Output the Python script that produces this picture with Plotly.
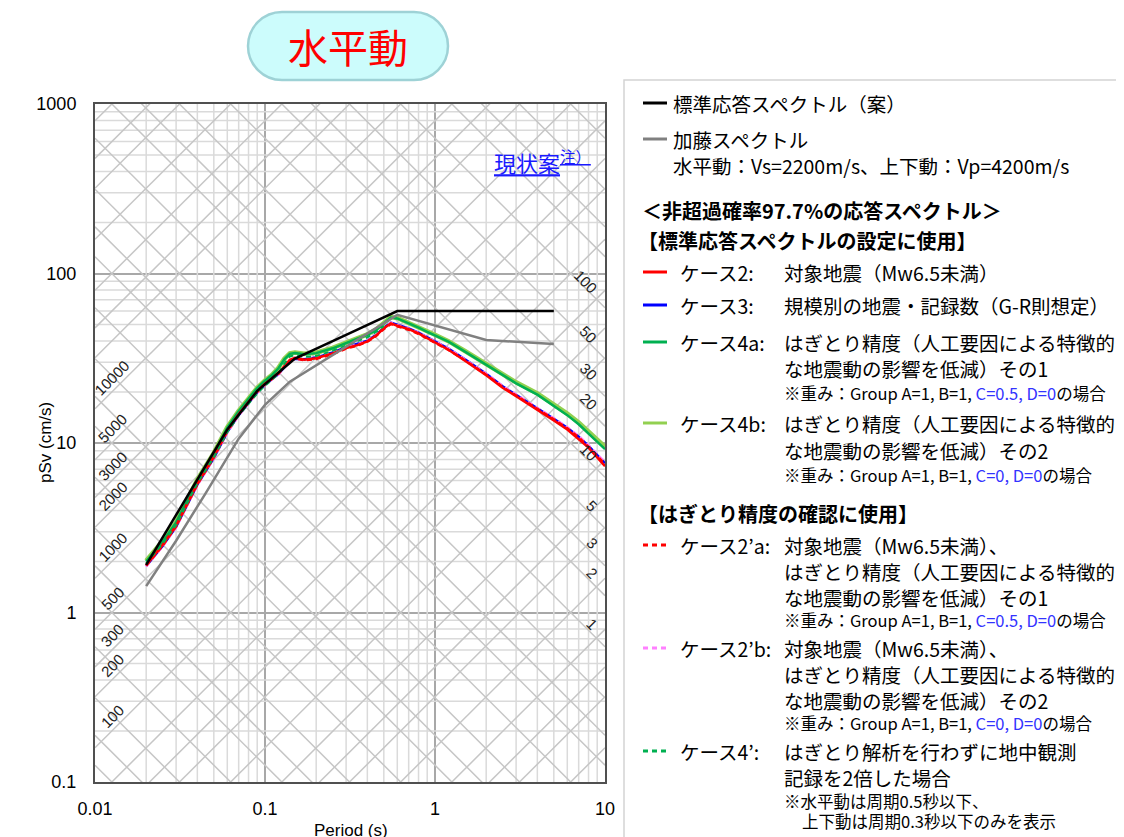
import math
import plotly.graph_objects as go

# ---------------- data ----------------
period = [0.02, 0.025, 0.03, 0.035, 0.04, 0.05, 0.06, 0.07, 0.08, 0.09,
          0.10, 0.11, 0.12, 0.13, 0.14, 0.15, 0.17, 0.20, 0.25, 0.30,
          0.35, 0.40, 0.45, 0.50, 0.55, 0.60, 0.70, 0.80, 0.90, 1.00,
          1.20, 1.50, 2.00, 2.50, 3.00, 4.00, 5.00, 6.00, 7.00, 8.00, 10.0]

case2_psv = [1.90, 2.50, 3.25, 4.40, 5.75, 8.30, 11.8, 14.8, 17.6, 20.2,
             22.4, 24.0, 25.9, 28.6, 31.0, 31.8, 31.0, 31.6, 33.8, 36.3,
             37.8, 39.8, 43.0, 47.5, 50.8, 49.2, 47.0, 44.3, 41.5, 39.2,
             35.5, 30.6, 25.1, 21.2, 18.9, 15.7, 13.6, 12.0, 10.6, 9.4, 7.3]

case3_psv = [1.88, 2.47, 3.20, 4.32, 5.68, 8.15, 11.6, 14.6, 17.3, 19.9,
             22.1, 23.7, 25.5, 28.0, 30.4, 31.4, 31.2, 31.9, 34.2, 36.8,
             38.4, 40.2, 43.3, 47.9, 51.3, 49.8, 47.4, 44.8, 42.0, 39.8,
             36.1, 31.2, 25.6, 21.6, 19.3, 16.0, 13.9, 12.3, 10.9, 9.6, 7.6]

case4a_psv = [2.00, 2.62, 3.40, 4.60, 6.05, 8.70, 12.3, 15.4, 18.3, 21.1,
              23.3, 25.2, 27.6, 31.2, 33.6, 34.0, 33.4, 33.9, 36.2, 38.8,
              41.2, 43.5, 46.5, 50.6, 55.0, 54.3, 51.0, 48.0, 45.3, 43.2,
              39.6, 34.6, 29.0, 25.2, 22.5, 19.3, 16.6, 14.6, 12.9, 11.4, 9.2]

case4b_psv = [2.02, 2.64, 3.42, 4.62, 6.08, 8.75, 12.4, 15.5, 18.4, 21.2,
              23.4, 25.3, 27.8, 31.4, 33.8, 34.2, 33.6, 34.1, 36.4, 39.0,
              41.4, 43.7, 46.8, 50.9, 55.3, 54.6, 51.3, 48.3, 45.6, 43.5,
              39.9, 34.9, 29.3, 25.5, 22.8, 19.6, 16.9, 14.9, 13.2, 11.7, 9.5]

case2a_psv = [1.89, 2.48, 3.22, 4.36, 5.70, 8.20, 11.7, 14.7, 17.4, 20.0,
              22.2, 23.8, 25.6, 28.2, 30.6, 31.5, 30.8, 31.3, 33.5, 36.0,
              37.6, 39.6, 42.8, 47.0, 50.3, 48.8, 46.6, 44.0, 41.3, 39.0,
              35.4, 30.8, 25.3, 21.4, 19.1, 15.9, 13.8, 12.2, 10.8, 9.5, 7.5]

case2b_psv = [1.87, 2.46, 3.18, 4.30, 5.65, 8.10, 11.5, 14.5, 17.2, 19.8,
              22.0, 23.6, 25.4, 27.9, 30.3, 31.3, 31.1, 31.8, 34.0, 36.6,
              38.2, 40.1, 43.2, 47.6, 51.2, 49.6, 47.2, 44.6, 41.9, 39.6,
              36.0, 31.1, 25.6, 21.7, 19.4, 16.1, 14.0, 12.4, 11.0, 9.7, 7.7]

period_case4p = [0.02, 0.025, 0.03, 0.035, 0.04, 0.05, 0.06, 0.07, 0.08, 0.09,
                 0.10, 0.11, 0.12, 0.13, 0.14, 0.15, 0.17, 0.20, 0.25, 0.30,
                 0.35, 0.40, 0.45, 0.50]
case4p_psv = [1.95, 2.55, 3.28, 4.45, 5.80, 8.25, 11.6, 14.5, 17.0, 19.6,
              21.8, 23.6, 25.8, 29.4, 32.4, 33.0, 32.2, 32.6, 35.0, 37.6,
              39.6, 42.0, 45.2, 49.0]

std_period = [0.02, 0.03, 0.04, 0.06, 0.09, 0.15, 0.30, 0.60, 5.00]
std_psv = [1.91, 3.75, 6.0, 12.0, 20.3, 31.5, 43.4, 60.0, 60.0]

kato_period = [0.02, 0.03, 0.045, 0.07, 0.10, 0.14, 0.60, 2.00, 5.00]
kato_psv = [1.43, 2.65, 5.1, 10.6, 16.8, 23.0, 57.0, 40.5, 38.4]

x_tick_vals = [0.01, 0.1, 1, 10]
x_tick_text = ["0.01", "0.1", "1", "10"]
y_tick_vals = [0.1, 1, 10, 100, 1000]
y_tick_text = ["0.1", "1", "10", "100", "1000"]

accel_levels = [k * 10 ** e for e in range(-1, 6) for k in (1, 2, 3, 5)]   # cm/s^2
disp_levels = [k * 10.0 ** e for e in range(-4, 4) for k in (1, 2, 3, 5)]  # cm
accel_labels = [10000, 5000, 3000, 2000, 1000, 500, 300, 200, 100]
disp_labels = [100, 50, 30, 20, 10, 5, 3, 2, 1]

# ---------------- layout helpers ----------------
# reference pixel frame: plot area x 95..605, y 104..782 ; page has an 8px body margin
OFF = 8
W, H = 1124 - OFF, 837 - OFF
L, R, T, B = 95, 605, 104, 782
TWO_PI = 2 * math.pi


def px(x):
    return (x - L) / (R - L)


def py(y):
    return (B - y) / (B - T)


JP = "Noto Sans CJK JP"
AR = "Liberation Sans"

fig = go.Figure()

# minor vertical / horizontal grid
gx, gy = [], []
for d in (0.01, 0.1, 1):
    for k in range(2, 10):
        gx += [k * d, k * d, None]
        gy += [0.1, 1000, None]
for d in (0.1, 1, 10, 100):
    for k in range(2, 10):
        gx += [0.01, 10, None]
        gy += [k * d, k * d, None]
fig.add_trace(go.Scatter(x=gx, y=gy, mode="lines", hoverinfo="skip",
                         line=dict(color="#dadada", width=1.5), showlegend=False))

# tripartite diagonals
dx, dy = [], []
for sa in accel_levels:
    dx += [0.01, 10, None]
    dy += [sa * 0.01 / TWO_PI, sa * 10 / TWO_PI, None]
for sd in disp_levels:
    dx += [0.01, 10, None]
    dy += [TWO_PI * sd / 0.01, TWO_PI * sd / 10, None]
fig.add_trace(go.Scatter(x=dx, y=dy, mode="lines", hoverinfo="skip",
                         line=dict(color="#c6c6c6", width=1.5), showlegend=False))


def add_curve(x, y, color, width, dash="solid", name=""):
    fig.add_trace(go.Scatter(x=x, y=y, mode="lines", name=name,
                             line=dict(color=color, width=width, dash=dash),
                             showlegend=False))


DASH = "5px,4px"
add_curve(period, case4b_psv, "#92d050", 4.5, name="ケース4b")
add_curve(period, case4a_psv, "#00b050", 2.5, name="ケース4a")
add_curve(period, case3_psv, "#0000ff", 2.5, name="ケース3")
add_curve(period, case2b_psv, "#ff80ff", 2.5, DASH, name="ケース2'b")
add_curve(period, case2a_psv, "#ff0000", 2.5, DASH, name="ケース2'a")
add_curve(period, case2_psv, "#ff0000", 2.5, name="ケース2")
add_curve(period_case4p, case4p_psv, "#00b050", 2.0, DASH, name="ケース4'")
add_curve(kato_period, kato_psv, "#808080", 2.5, name="加藤スペクトル")
add_curve(std_period, std_psv, "#000000", 2.5, name="標準応答スペクトル（案）")

annotations = []
shapes = []

# tripartite labels
t_left = 0.0128
for sa in accel_labels:
    annotations.append(dict(x=math.log10(t_left), y=math.log10(sa * t_left / TWO_PI),
                            xref="x", yref="y", text=str(sa), showarrow=False,
                            xanchor="center", yanchor="middle",
                            textangle=-45, yshift=13, xshift=-1,
                            font=dict(family=AR, size=15, color="#222")))
t_right = 8.5
for sd in disp_labels:
    n = len(str(sd))
    annotations.append(dict(x=math.log10(t_right), y=math.log10(TWO_PI * sd / t_right),
                            xref="x", yref="y", text=str(sd), showarrow=False,
                            xanchor="center", yanchor="middle",
                            textangle=45, yshift=11 + 1.5 * (n - 1), xshift=-1.5 - 3 * (n - 1),
                            font=dict(family=AR, size=15, color="#222")))

# axis titles
annotations.append(dict(x=px(45), y=py(443), xref="paper", yref="paper",
                        xanchor="center", yanchor="middle",
                        text="pSv (cm/s)", showarrow=False, textangle=-90,
                        font=dict(family=AR, size=17, color="black")))
annotations.append(dict(x=px(351), y=py(830), xref="paper", yref="paper",
                        xanchor="center", yanchor="middle",
                        text="Period (s)", showarrow=False,
                        font=dict(family=AR, size=17, color="black")))

# 現状案 note
annotations.append(dict(x=px(492), y=py(161), xref="paper", yref="paper",
                        xanchor="left", yanchor="middle",
                        text="<u>現状案<sup>注）</sup></u>", showarrow=False,
                        font=dict(family=JP, size=22, color="#1a1aff")))

# title pill
x0, x1, y0, y1 = 248, 448, 12, 80
r = (y1 - y0) / 2
k = 0.5523 * r


def P(x, y):
    return f"{px(x):.5f},{py(y):.5f}"


path = (f"M {P(x0 + r, y0)} L {P(x1 - r, y0)} "
        f"C {P(x1 - r + k, y0)} {P(x1, y0 + r - k)} {P(x1, y0 + r)} "
        f"C {P(x1, y0 + r + k)} {P(x1 - r + k, y1)} {P(x1 - r, y1)} "
        f"L {P(x0 + r, y1)} "
        f"C {P(x0 + r - k, y1)} {P(x0, y0 + r + k)} {P(x0, y0 + r)} "
        f"C {P(x0, y0 + r - k)} {P(x0 + r - k, y0)} {P(x0 + r, y0)} Z")
shapes.append(dict(type="path", path=path, xref="paper", yref="paper",
                   fillcolor="#ccfcfc", line=dict(color="#9ed2d6", width=2.5)))
annotations.append(dict(x=px(348), y=py(46), xref="paper", yref="paper",
                        xanchor="center", yanchor="middle",
                        text="水平動", showarrow=False,
                        font=dict(family=JP, size=40, color="#ff0000")))

# legend panel
shapes.append(dict(type="rect", xref="paper", yref="paper",
                   x0=px(624), x1=px(1140), y0=py(850), y1=py(80),
                   fillcolor="white", line=dict(color="#d4d4d4", width=1.5), layer="below"))

MAIN = 19.5
SMALL = 16.5
HEAD = 20


def txt(x, y, s, size=MAIN, bold=False, color="black"):
    if bold:
        s = "<b>" + s + "</b>"
    annotations.append(dict(x=px(x), y=py(y), xref="paper", yref="paper",
                            xanchor="left", yanchor="middle", text=s, showarrow=False,
                            font=dict(family=JP, size=size, color=color)))


def swatch(y, color, dash="solid"):
    shapes.append(dict(type="line", xref="paper", yref="paper",
                       x0=px(643), x1=px(667), y0=py(y), y1=py(y),
                       line=dict(color=color, width=3, dash=dash)))


BL = "<span style='color:#3333ff'>"
swatch(103, "#000000"); txt(671, 103, "標準応答スペクトル（案）")
swatch(139, "#808080"); txt(671, 139, "加藤スペクトル")
txt(671, 166, "水平動：Vs=2200m/s、上下動：Vp=4200m/s")
txt(640, 210, "＜非超過確率97.7%の応答スペクトル＞", size=HEAD, bold=True)
txt(636, 240, "【標準応答スペクトルの設定に使用】", size=HEAD, bold=True)

C1 = 678
C2 = 782
swatch(272, "#ff0000"); txt(C1, 272, "ケース2:"); txt(C2, 272, "対象地震（Mw6.5未満）")
swatch(305, "#0000ff"); txt(C1, 305, "ケース3:"); txt(C2, 305, "規模別の地震・記録数（G-R則想定）")
swatch(342, "#00b050"); txt(C1, 342, "ケース4a:"); txt(C2, 342, "はぎとり精度（人工要因による特徴的")
txt(C2, 368, "な地震動の影響を低減）その1")
txt(C2, 393, "※重み：Group A=1, B=1, " + BL + "C=0.5, D=0</span>の場合", size=SMALL)
swatch(423, "#92d050"); txt(C1, 423, "ケース4b:"); txt(C2, 423, "はぎとり精度（人工要因による特徴的")
txt(C2, 450, "な地震動の影響を低減）その2")
txt(C2, 475, "※重み：Group A=1, B=1, " + BL + "C=0, D=0</span>の場合", size=SMALL)

txt(636, 513, "【はぎとり精度の確認に使用】", size=HEAD, bold=True)
swatch(545, "#ff0000", DASH); txt(C1, 545, "ケース2’a:"); txt(C2, 545, "対象地震（Mw6.5未満）、")
txt(C2, 571, "はぎとり精度（人工要因による特徴的")
txt(C2, 597, "な地震動の影響を低減）その1")
txt(C2, 620, "※重み：Group A=1, B=1, " + BL + "C=0.5, D=0</span>の場合", size=SMALL)
swatch(648, "#ff80ff", DASH); txt(C1, 648, "ケース2’b:"); txt(C2, 648, "対象地震（Mw6.5未満）、")
txt(C2, 674, "はぎとり精度（人工要因による特徴的")
txt(C2, 700, "な地震動の影響を低減）その2")
txt(C2, 723, "※重み：Group A=1, B=1, " + BL + "C=0, D=0</span>の場合", size=SMALL)
swatch(751, "#00b050", DASH); txt(C1, 751, "ケース4’:"); txt(C2, 751, "はぎとり解析を行わずに地中観測")
txt(C2, 777, "記録を2倍した場合")
txt(C2, 801, "※水平動は周期0.5秒以下、", size=SMALL)
txt(C2 + 18, 821, "上下動は周期0.3秒以下のみを表示", size=SMALL)

fig.update_layout(
    width=W, height=H,
    margin=dict(l=L - OFF, r=W - (R - OFF), t=T - OFF, b=H - (B - OFF), pad=0),
    paper_bgcolor="white", plot_bgcolor="white",
    showlegend=False,
    annotations=annotations, shapes=shapes,
    xaxis=dict(type="log", range=[-2, 1], tickvals=x_tick_vals, ticktext=x_tick_text,
               showgrid=True, gridcolor="#a8a8a8", gridwidth=2,
               showline=True, linecolor="#505050", linewidth=2, mirror=True,
               ticks="outside", ticklen=9, tickcolor="rgba(0,0,0,0)",
               tickfont=dict(family=AR, size=18, color="black"), zeroline=False),
    yaxis=dict(type="log", range=[-1, 3], tickvals=y_tick_vals, ticktext=y_tick_text,
               showgrid=True, gridcolor="#a8a8a8", gridwidth=2,
               showline=True, linecolor="#505050", linewidth=2, mirror=True,
               ticks="outside", ticklen=13, tickcolor="rgba(0,0,0,0)",
               tickfont=dict(family=AR, size=18, color="black"), zeroline=False),
)

fig.write_html("out.html")
